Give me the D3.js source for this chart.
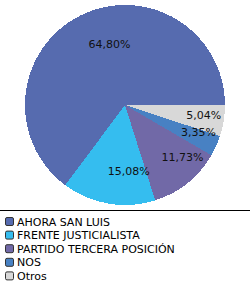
<!DOCTYPE html>
<html><head><meta charset="utf-8">
<script src="https://cdn.jsdelivr.net/npm/d3@7"></script>
<style>html,body{margin:0;padding:0;background:#fff;}svg{display:block;}</style>
</head><body>
<script>
const categories = ["AHORA SAN LUIS","FRENTE JUSTICIALISTA","PARTIDO TERCERA POSICIÓN","NOS","Otros"];
const values = [64.80, 15.08, 11.73, 3.35, 5.04];
const labels = ["64,80%","15,08%","11,73%","3,35%","5,04%"];
const colors = ["#566BAF","#35BDEF","#7169A7","#4881C3","#D8D8D8"];

const W = 250, H = 285;
const svg = d3.select("body").append("svg").attr("width", W).attr("height", H);
const cx = 125, cy = 105, R = 100;

const pie = d3.pie().sort(null).value(d => d)
  .startAngle(Math.PI/2).endAngle(Math.PI/2 - 2*Math.PI);
const arcs = pie(values);
const arc = d3.arc().innerRadius(0).outerRadius(R);
const labelArc = d3.arc().innerRadius(68).outerRadius(68);
const color = d3.scaleOrdinal().domain(categories).range(colors);

const g = svg.append("g").attr("transform", `translate(${cx},${cy})`);
g.selectAll("path").data(arcs).enter().append("path")
  .attr("d", arc).attr("fill", (d,i) => color(categories[i]))
  .attr("shape-rendering","crispEdges");
g.selectAll("text").data(arcs).enter().append("text")
  .attr("transform", d => { const c = labelArc.centroid(d); return `translate(${c[0]},${c[1]})`; })
  .attr("text-anchor","start").attr("dx",-6).attr("dy","0.3em")
  .attr("font-family","'DejaVu Sans', Verdana, sans-serif").attr("font-size","11px")
  .attr("fill","#111")
  .text((d,i) => labels[i]);

svg.append("line").attr("x1",0).attr("x2",W).attr("y1",210.5).attr("y2",210.5)
  .attr("stroke","#000").attr("stroke-width",1);

const y = d3.scaleBand().domain(categories).range([215, 283]);
const lg = svg.selectAll("g.leg").data(categories).enter().append("g")
  .attr("transform", d => `translate(0,${y(d)})`);
lg.append("rect").attr("x",5.5).attr("y",2.5).attr("width",8).attr("height",8)
  .attr("rx",1.5).attr("fill", d => color(d)).attr("stroke","#333").attr("stroke-width",1);
lg.append("text").attr("x",17).attr("y",10.5)
  .attr("font-family","'DejaVu Sans', Verdana, sans-serif").attr("font-size","11px")
  .attr("fill","#000").text(d => d);
</script>
</body></html>
